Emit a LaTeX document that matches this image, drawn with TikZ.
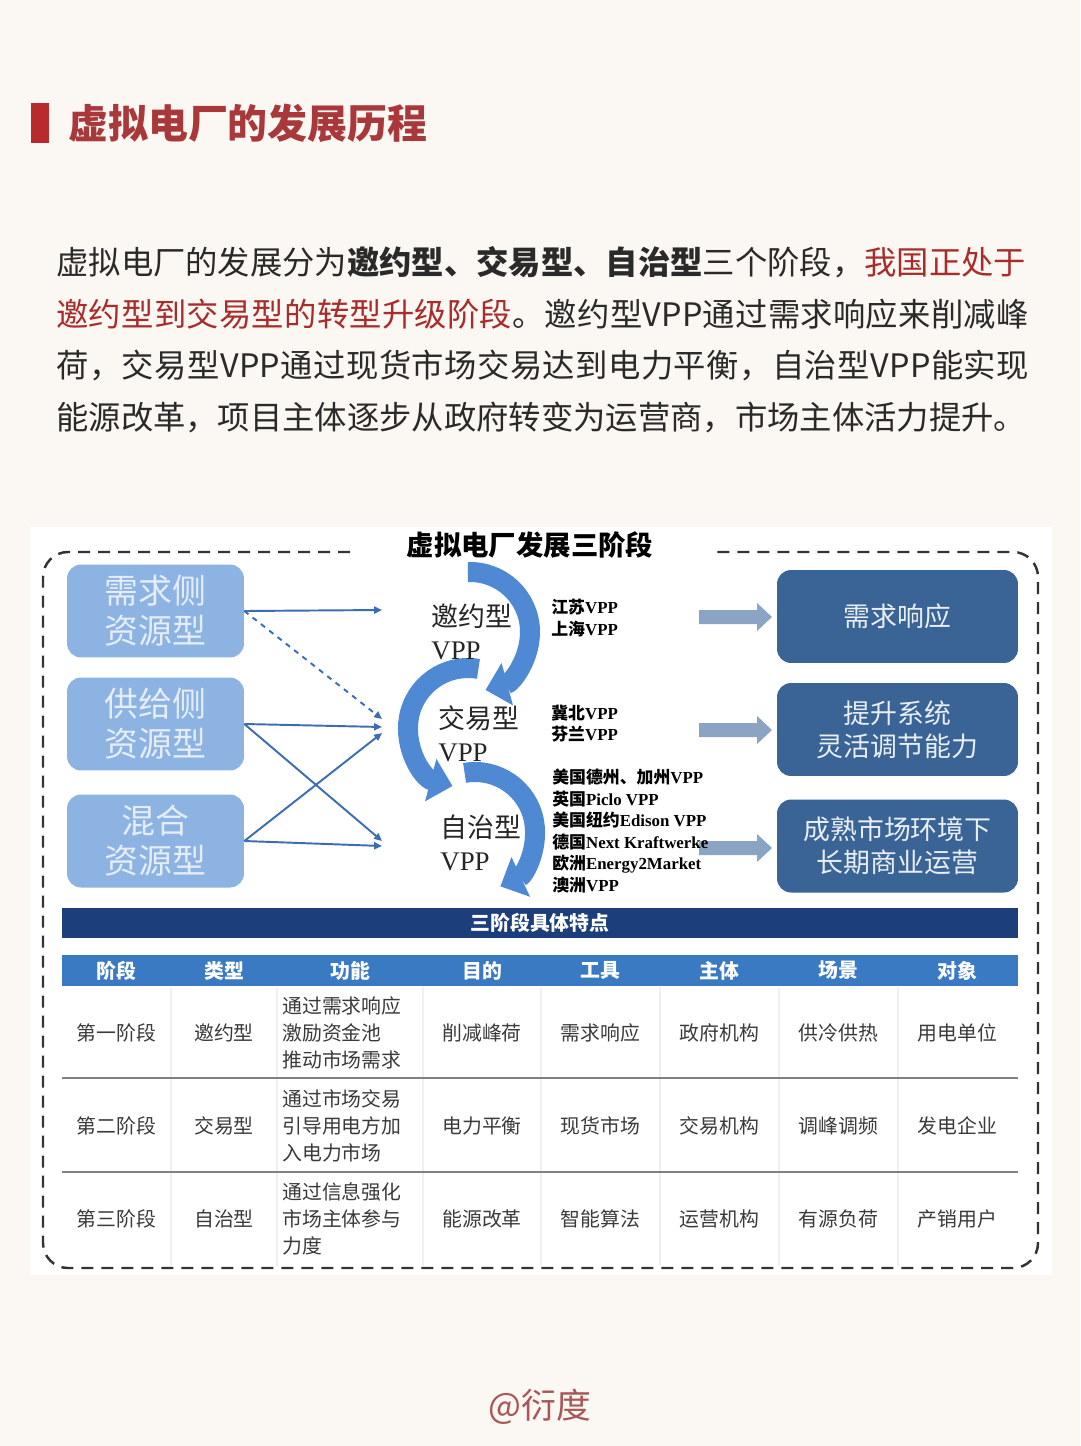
\documentclass[tikz,border=0pt]{standalone}
\usepackage{fontspec}
\setmainfont{Liberation Serif}
\newfontfamily\cjk{Noto Sans CJK SC}
\usetikzlibrary{
    positioning,
    arrows.meta
}
% Colores
\definecolor{paper}{HTML}{FBF7F2}
\definecolor{barred}{HTML}{B82A2C}
\definecolor{titlered}{HTML}{A8383A}
\definecolor{bodytext}{HTML}{2A2A2A}
\definecolor{hlred}{HTML}{A82C2C}
\definecolor{srcblue}{HTML}{8DB3E2}
\definecolor{srctext}{HTML}{E4EDF8}
\definecolor{resblue}{HTML}{3A6496}
\definecolor{restext}{HTML}{E9EEF5}
\definecolor{flowblue}{HTML}{4F88D3}
\definecolor{linkblue}{HTML}{3C6DB2}
\definecolor{greyarrow}{HTML}{8BA4C4}
\definecolor{navy}{HTML}{1C3F7C}
\definecolor{colblue}{HTML}{3A7AC3}
\definecolor{celltext}{HTML}{3A3A3A}
\definecolor{rowline}{HTML}{808080}
\definecolor{signred}{HTML}{A85656}
\tikzset{
    >={Triangle[length=4.5pt,width=4pt]},
    srcbox/.style={
        rectangle, rounded corners=8pt, fill=srcblue, text=srctext,
        minimum width=3.54cm, minimum height=1.86cm,
        inner sep=0pt, align=center,
        font=\cjk\fontsize{19.3}{22.7}\selectfont
    },
    resbox/.style={
        rectangle, rounded corners=8pt, fill=resblue, text=restext,
        minimum width=4.82cm, minimum height=1.86cm,
        inner sep=0pt, align=center,
        font=\cjk\fontsize{15.3}{18.7}\selectfont
    },
    flowlbl/.style={
        anchor=west, align=left, inner sep=0pt, text=black!85,
        font=\fontsize{15.3}{18.7}\selectfont
    },
    caselbl/.style={
        anchor=west, align=left, inner sep=0pt,
        font=\bfseries\fontsize{9.6}{12.2}\selectfont
    },
    link/.style={->, draw=linkblue, line width=1.1pt},
    flow/.style={
        draw=flowblue, line width=0.4cm,
        -{Triangle[length=0.45cm,width=0.85cm]}
    },
    bodyline/.style={
        anchor=west, inner sep=0pt, text=bodytext,
        font=\cjk\fontsize{18.4}{22}\selectfont
    },
    colhead/.style={
        inner sep=0pt, text=white,
        font=\cjk\bfseries\fontsize{11.3}{13}\selectfont
    },
    cell/.style={
        inner sep=0pt, text=celltext, align=left,
        font=\cjk\fontsize{11.3}{15.3}\selectfont
    }
}

\begin{document}
\begin{tikzpicture}[
    x=0.02cm, y=-0.02cm
]

    \useasboundingbox (0,0) rectangle (1080,1446);
    \fill[paper] (0,0) rectangle (1080,1446);

    % Titulo y texto
    \fill[barred] (31,103) rectangle (49,143);
    \node[anchor=west, inner sep=0pt, text=titlered,
          font=\cjk\bfseries\fontsize{22.7}{26}\selectfont]
          (title) at (68,123) {虚拟电厂的发展历程};

    \node[bodyline] (para1) at (56,262)
        {虚拟电厂的发展分为\textbf{邀约型、交易型、自治型}三个阶段，\textcolor{hlred}{我国正处于}};
    \node[bodyline] (para2) at (56,314)
        {\addfontfeature{LetterSpace=0.8}\textcolor{hlred}{邀约型到交易型的转型升级阶段}。邀约型VPP通过需求响应来削减峰};
    \node[bodyline] (para3) at (56,366)
        {\addfontfeature{LetterSpace=1.3}荷，交易型VPP通过现货市场交易达到电力平衡，自治型VPP能实现};
    \node[bodyline] (para4) at (56,417)
        {能源改革，项目主体逐步从政府转变为运营商，市场主体活力提升。};

    % Panel
    \fill[white] (30,527) rectangle (1052,1275);
    \draw[black!80, line width=1.4pt, dash pattern=on 0.24cm off 0.16cm,
          rounded corners=0.5cm]
        (350,552) -- (43,552) -- (43,1268) -- (1038,1268) -- (1038,552) -- (712,552);
    \node[font=\cjk\bfseries\fontsize{15.6}{18}\selectfont, inner sep=0pt]
        (paneltitle) at (530,545) {虚拟电厂发展三阶段};

    % Recursos
    \node[srcbox] (srcdemand) at (155.5,611) {需求侧\\资源型};
    \node[srcbox] (srcsupply) at (155.5,724) {供给侧\\资源型};
    \node[srcbox] (srcmix)    at (155.5,841) {混合\\资源型};

    % Resultados
    \node[resbox] (resdemand) at (897.5,616.5) {需求响应};
    \node[resbox] (resflex)   at (897.5,729.5) {提升系统\\灵活调节能力};
    \node[resbox] (resbiz)    at (897.5,846)   {成熟市场环境下\\长期商业运营};

    % Flechas curvas
    \draw[flow] (475,832) ++(-100:60) arc[start angle=-100, end angle=65, radius=60];
    \draw[flow] (468,728) ++(-80:60) arc[start angle=-80, end angle=-255, radius=60];
    \draw[flow] (470,632) ++(-92:60) arc[start angle=-92, end angle=75, radius=60];

    \node[flowlbl] (invite) at (431,632) {{\cjk 邀约型}\\VPP};
    \node[flowlbl] (trade)  at (438,734) {{\cjk 交易型}\\VPP};
    \node[flowlbl] (auto)   at (440,843) {{\cjk 自治型}\\VPP};

    \node[caselbl] (caseinvite) at (551,618)
        {{\cjk 江苏}VPP\\{\cjk 上海}VPP};
    \node[caselbl] (casetrade) at (551,723.5)
        {{\cjk 冀北}VPP\\{\cjk 芬兰}VPP};

    % Flechas grises
    \foreach \y in {617,730,848}
        \fill[greyarrow] (699,\y-7) -- (757,\y-7) -- (757,\y-14) -- (772,\y)
            -- (757,\y+14) -- (757,\y+7) -- (699,\y+7) -- cycle;

    \node[caselbl] (caseauto) at (552,831)
        {{\cjk 美国德州、加州}VPP\\{\cjk 英国}Piclo VPP\\{\cjk 美国纽约}Edison VPP\\
         {\cjk 德国}Next Kraftwerke\\{\cjk 欧洲}Energy2Market\\{\cjk 澳洲}VPP};

    % Enlaces
    \coordinate (inA)  at (382,610);
    \coordinate (inBd) at (382,719);
    \coordinate (inB)  at (382,727);
    \coordinate (inBm) at (382,733);
    \coordinate (inC)  at (382,841);
    \coordinate (inCs) at (382,846);

    \draw[link] (srcdemand.east) -- (inA);
    \draw[link, dashed] (srcdemand.east) -- (inBd);
    \draw[link] (srcsupply.east) -- (inB);
    \draw[link] (srcsupply.east) -- (inC);
    \draw[link] (srcmix.east) -- (inBm);
    \draw[link] (srcmix.east) -- (inCs);

    % Tabla
    \fill[navy] (62,908) rectangle (1018,938);
    \node[colhead] (tabtitle) at (540,923) {三阶段具体特点};
    \fill[colblue] (62,955) rectangle (1018,986);
    \foreach \x/\t [count=\i] in {116.5/阶段, 224/类型, 350/功能, 482/目的,
                                   600.5/工具, 719.5/主体, 838.5/场景, 957.5/对象}
        \node[colhead] (head\i) at (\x,970.5) {\t};

    \foreach \x in {171,277,423,541,660,779,898}
        \draw[black!6, line width=0.6pt] (\x,987) -- (\x,1266);
    \draw[rowline, line width=0.9pt] (62,1078) -- (1018,1078);
    \draw[rowline, line width=0.9pt] (62,1172) -- (1018,1172);

    \foreach \y/\stage/\kind/\func/\aim/\tool/\body/\scene/\user [count=\r] in {
        1033/第一阶段/邀约型/{通过需求响应\\激励资金池\\推动市场需求}/削减峰荷/需求响应/政府机构/供冷供热/用电单位,
        1126/第二阶段/交易型/{通过市场交易\\引导用电方加\\入电力市场}/电力平衡/现货市场/交易机构/调峰调频/发电企业,
        1219/第三阶段/自治型/{通过信息强化\\市场主体参与\\力度}/能源改革/智能算法/运营机构/有源负荷/产销用户}
    {
        \node[cell] (stage\r) at (116.5,\y) {\stage};
        \node[cell] (kind\r)  at (224,\y)   {\kind};
        \node[cell, anchor=west] (func\r) at (282,\y) {\func};
        \node[cell] (aim\r)   at (482,\y)   {\aim};
        \node[cell] (tool\r)  at (600.5,\y) {\tool};
        \node[cell] (body\r)  at (719.5,\y) {\body};
        \node[cell] (scene\r) at (838.5,\y) {\scene};
        \node[cell] (user\r)  at (957.5,\y) {\user};
    }

    % Firma
    \node[text=signred, font=\cjk\fontsize{19.8}{24}\selectfont] (sign) at (540,1407) {@衍度};

\end{tikzpicture}
\end{document}
